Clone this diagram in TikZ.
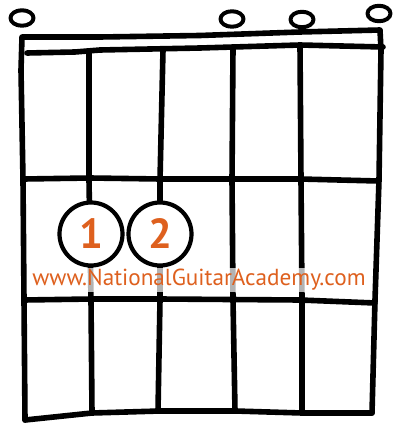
\documentclass[tikz,border=0pt]{standalone}
\usepackage{fontspec}
\setmainfont{PT Sans}
\usetikzlibrary{shapes.geometric}
\definecolor{nga}{RGB}{222,96,30}
\begin{document}
\begin{tikzpicture}[x=1pt,y=-1pt, line cap=round, line join=round,
  ink/.style={line width=5.6pt, draw=black},
  openmark/.style={draw, line width=4pt, ellipse, minimum width=23pt, minimum height=15.5pt, inner sep=0pt},
  finger/.style={circle, draw, line width=4.2pt, fill=white, minimum size=63pt, inner sep=0pt, text=nga, font=\bfseries\fontsize{42}{42}\selectfont},
  url/.style={text=nga, fill=white, fill opacity=0.7, text opacity=1, inner sep=1pt, font=\fontsize{23.2}{24}\selectfont}]
\useasboundingbox (0,0) rectangle (400,430);
% open string marks
\node[openmark] (o1) at (22,18) {};
\node[openmark] (o4) at (232,19) {};
\node[openmark] (o5) at (302,19.5) {};
\node[openmark] (o6) at (379,13.5) {};
% frame: left edge, nut top, right edge
\draw[ink] (25,420) -- (24,300) -- (23,180) -- (21,70) -- (22,37) -- (100,37) -- (200,35.5) -- (300,32) -- (380,30) -- (381,50) -- (379,180) -- (375,300) -- (372,413);
% nut lower line
\draw[ink] (27,53) -- (75,52) -- (100,50) -- (200,48) -- (300,45) -- (383,47);
% frets
\draw[ink] (24,179) -- (90,178) -- (160,179) -- (300,179) -- (378,181);
\draw[ink] (24,300) -- (92,299) -- (160,299) -- (300,300) -- (375,303);
\draw[ink] (25,420) -- (92,413) -- (160,411) -- (235,411) -- (302,413) -- (372,413);
% strings
\draw[ink] (89,52) -- (89,180) -- (91,300) -- (92,413);
\draw[ink] (163,50) -- (160,180) -- (160,300) -- (158,411);
\draw[ink] (233,48) -- (232,180) -- (233,300) -- (235,411);
\draw[ink] (300,46) -- (301,180) -- (302,300) -- (302,413);
% website label
\node[url] (web) at (199,280) {www.NationalGuitarAcademy.com};
% finger circles
\node[finger] (f1) at (91,234) {1};
\node[finger] (f2) at (160,234) {2};
\end{tikzpicture}
\end{document}
